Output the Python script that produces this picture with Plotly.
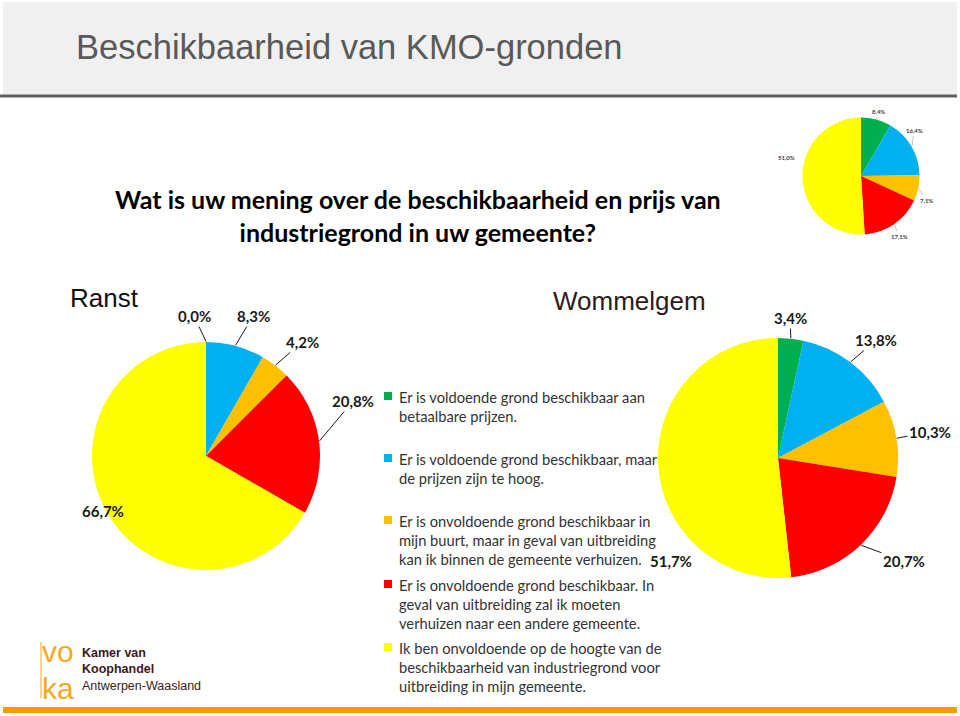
import plotly.graph_objects as go
import math

W, H = 960, 716

# ---------------- data ----------------
categories = [
    "Er is voldoende grond beschikbaar aan<br>betaalbare prijzen.",
    "Er is voldoende grond beschikbaar, maar<br>de prijzen zijn te hoog.",
    "Er is onvoldoende grond beschikbaar in<br>mijn buurt, maar in geval van uitbreiding<br>kan ik binnen de gemeente verhuizen.",
    "Er is onvoldoende grond beschikbaar. In<br>geval van uitbreiding zal ik moeten<br>verhuizen naar een andere gemeente.",
    "Ik ben onvoldoende op de hoogte van de<br>beschikbaarheid van industriegrond voor<br>uitbreiding in mijn gemeente.",
]
colors = ["#00B050", "#00B0F0", "#FFC000", "#FF0000", "#FFFF00"]

ranst_values = [0.0, 8.3, 4.2, 20.8, 66.7]
wommelgem_values = [3.4, 13.8, 10.3, 20.7, 51.7]
total_values = [8.4, 16.4, 7.1, 17.1, 51.0]

title_text = "Beschikbaarheid van KMO-gronden"
question_text = "Wat is uw mening over de beschikbaarheid en prijs van<br>industriegrond in uw gemeente?"

# ---------------- layout (pixel geometry) ----------------
pies = [
    dict(vals=ranst_values, cx=206, cy=456, r=114,
         lab=[(194, 316), (253, 316), (302, 342), (353, 401), (80, 522)],
         lead=[True, True, True, True, False], fs=15),
    dict(vals=wommelgem_values, cx=778, cy=458, r=120,
         lab=[(790, 318), (876, 340), (930, 432), (904, 561), (694, 572)],
         lead=[True, True, True, True, False], fs=15),
    dict(vals=total_values, cx=861, cy=176, r=58.5,
         lab=[(878, 112), (914, 131), (926, 200), (899, 236), (797, 152)],
         lead=[True, True, True, True, False], fs=6),
]

def px(x):
    return x / W

def py(y):
    return 1 - y / H

fig = go.Figure()
shapes = []
annotations = []

# title bar
shapes.append(dict(type="rect", xref="paper", yref="paper", x0=px(3), x1=px(957),
                   y0=py(95), y1=py(2), fillcolor="#F0F0F0", line=dict(width=0), layer="below"))
shapes.append(dict(type="line", xref="paper", yref="paper", x0=px(0), x1=px(957),
                   y0=py(96), y1=py(96), line=dict(color="#5F5F5F", width=3)))
# bottom orange bar
shapes.append(dict(type="rect", xref="paper", yref="paper", x0=px(3), x1=px(957),
                   y0=py(713), y1=py(707), fillcolor="#FF9900", line=dict(width=0)))

annotations.append(dict(text=title_text, x=px(74), y=py(47), xref="paper", yref="paper",
                        xanchor="left", yanchor="middle", showarrow=False,
                        font=dict(family="Liberation Sans", size=34.5, color="#595959")))
annotations.append(dict(text="<b>" + question_text + "</b>", x=px(418), y=py(215),
                        xref="paper", yref="paper", xanchor="center", yanchor="middle",
                        showarrow=False, align="center",
                        font=dict(family="Lato", size=25, color="#000000")))
annotations.append(dict(text="Ranst", x=px(68), y=py(298), xref="paper", yref="paper",
                        xanchor="left", yanchor="middle", showarrow=False,
                        font=dict(family="Liberation Sans", size=26, color="#111111")))
annotations.append(dict(text="Wommelgem", x=px(551), y=py(301), xref="paper", yref="paper",
                        xanchor="left", yanchor="middle", showarrow=False,
                        font=dict(family="Liberation Sans", size=26, color="#2E1A1A")))

for p in pies:
    cx, cy, r = p["cx"], p["cy"], p["r"]
    fig.add_trace(go.Pie(
        values=p["vals"], labels=[c.split("<br>")[0] for c in categories],
        marker=dict(colors=colors, line=dict(width=0)),
        sort=False, direction="clockwise", rotation=0,
        textinfo="none", hoverinfo="skip", showlegend=False,
        domain=dict(x=[px(cx - r), px(cx + r)], y=[py(cy + r), py(cy - r)]),
    ))
    tot = sum(p["vals"])
    cum = 0.0
    small = p["fs"] < 10
    for i, v in enumerate(p["vals"]):
        mid = (cum + v / 2) / tot * 2 * math.pi
        cum += v
        ex = cx + (r + 0.5) * math.sin(mid)
        ey = cy - (r + 0.5) * math.cos(mid)
        lx, ly = p["lab"][i]
        txt = "<b>" + f"{v:.1f}".replace(".", ",") + "%</b>"
        fnt = dict(family="Lato", size=p["fs"], color="#404040" if small else "#1A1A1A")
        if p["lead"][i]:
            annotations.append(dict(text=txt, x=px(ex), y=py(ey), xref="paper", yref="paper",
                                    ax=lx - ex, ay=ly - ey, showarrow=True, arrowhead=0,
                                    arrowwidth=0.6 if small else 1,
                                    arrowcolor="#A0A0A0" if small else "#1A1A1A",
                                    standoff=0, startstandoff=0, font=fnt))
        else:
            annotations.append(dict(text=txt, x=px(lx), y=py(ly), xref="paper", yref="paper",
                                    showarrow=False, font=fnt))

# legend
leg_y = [396, 458, 520, 584, 647]
for i, cat in enumerate(categories):
    y = leg_y[i]
    shapes.append(dict(type="rect", xref="paper", yref="paper", x0=px(384), x1=px(392),
                       y0=py(y + 4), y1=py(y - 4), fillcolor=colors[i], line=dict(width=0)))
    annotations.append(dict(text=cat, x=px(397), y=py(y - 10), xref="paper", yref="paper",
                            xanchor="left", yanchor="top", showarrow=False, align="left",
                            font=dict(family="Lato", size=14.7, color="#333333")))

# logo
shapes.append(dict(type="line", xref="paper", yref="paper", x0=px(41), x1=px(41),
                   y0=py(698), y1=py(642), line=dict(color="#F7A823", width=1)))
annotations.append(dict(text="vo", x=px(40), y=py(670), xref="paper", yref="paper",
                        xanchor="left", yanchor="bottom", showarrow=False,
                        font=dict(family="Liberation Sans", size=30, color="#F7A823")))
annotations.append(dict(text="ka", x=px(40), y=py(670), xref="paper", yref="paper",
                        xanchor="left", yanchor="top", showarrow=False,
                        font=dict(family="Liberation Sans", size=30, color="#F7A823")))
annotations.append(dict(text="<b>Kamer van</b><br><b>Koophandel</b><br>Antwerpen-Waasland",
                        x=px(80), y=py(644), xref="paper", yref="paper",
                        xanchor="left", yanchor="top", showarrow=False, align="left",
                        font=dict(family="Liberation Sans", size=12.5, color="#3A1A1A")))

fig.update_layout(
    width=W, height=H, margin=dict(l=0, r=0, t=0, b=0),
    paper_bgcolor="white", plot_bgcolor="white",
    shapes=shapes, annotations=annotations,
)

fig.write_html("out.html")
